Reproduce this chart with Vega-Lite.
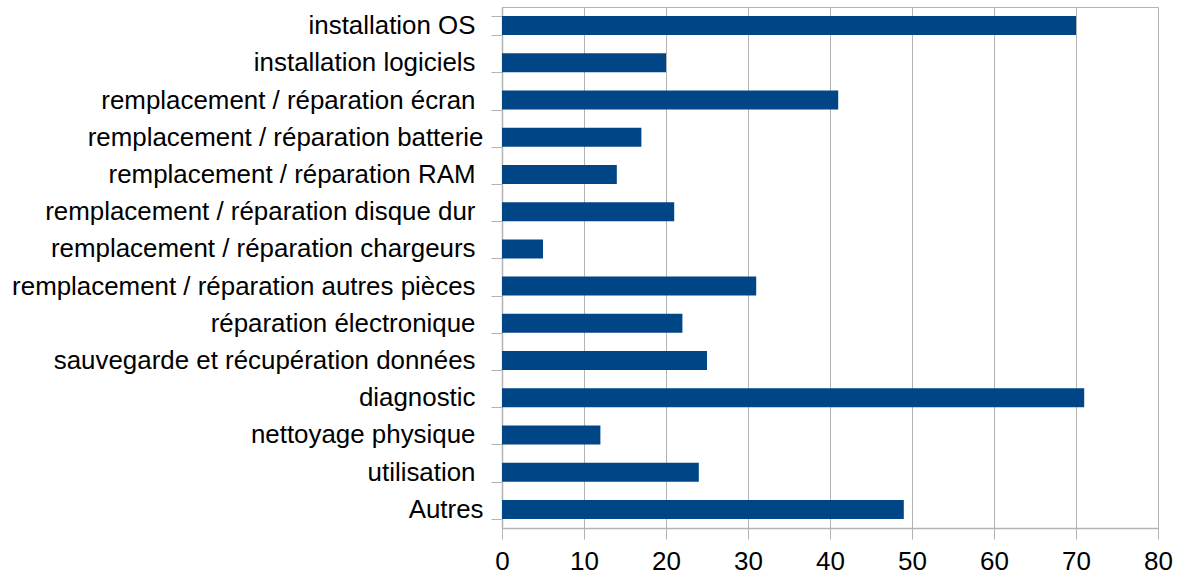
{
  "$schema": "https://vega.github.io/schema/vega-lite/v6.json",
  "width": 656,
  "height": 521,
  "autosize": {"type": "none"},
  "padding": {"left": 502, "top": 7, "right": 24, "bottom": 50},
  "background": "white",
  "config": {
    "view": {"stroke": "#b3b3b3", "strokeWidth": 1},
    "font": "Liberation Sans"
  },
  "data": {
    "values": [
      {"categorie": "installation OS", "valeur": 70},
      {"categorie": "installation logiciels", "valeur": 20},
      {"categorie": "remplacement / réparation écran", "valeur": 41},
      {"categorie": "remplacement / réparation batterie", "valeur": 17},
      {"categorie": "remplacement / réparation RAM", "valeur": 14},
      {"categorie": "remplacement / réparation disque dur", "valeur": 21},
      {"categorie": "remplacement / réparation chargeurs", "valeur": 5},
      {"categorie": "remplacement / réparation autres pièces", "valeur": 31},
      {"categorie": "réparation électronique", "valeur": 22},
      {"categorie": "sauvegarde et récupération données", "valeur": 25},
      {"categorie": "diagnostic", "valeur": 71},
      {"categorie": "nettoyage physique", "valeur": 12},
      {"categorie": "utilisation", "valeur": 24},
      {"categorie": "Autres", "valeur": 49}
    ]
  },
  "mark": {"type": "bar", "color": "#004586"},
  "encoding": {
    "y": {
      "field": "categorie",
      "type": "nominal",
      "sort": null,
      "title": null,
      "scale": {"paddingInner": 0.49, "paddingOuter": 0.245},
      "axis": {
        "domainColor": "#b3b3b3",
        "domainWidth": 1.5,
        "tickColor": "#b3b3b3",
        "tickSize": 11,
        "tickBand": "extent",
        "labelFont": "Liberation Sans",
        "labelFontSize": 25.9,
        "labelColor": "#000000",
        "labelLimit": 600,
        "labelPadding": {"condition": {"test": "datum.value === 'Autres' || datum.value === 'remplacement / réparation batterie'", "value": 8}, "value": 16}
      }
    },
    "x": {
      "field": "valeur",
      "type": "quantitative",
      "title": null,
      "scale": {"domain": [0, 80], "nice": false},
      "axis": {
        "values": [0, 10, 20, 30, 40, 50, 60, 70, 80],
        "grid": true,
        "gridColor": "#b3b3b3",
        "gridWidth": 1,
        "domainColor": "#b3b3b3",
        "domainWidth": 1.5,
        "tickColor": "#b3b3b3",
        "tickSize": 11,
        "labelFont": "Liberation Sans",
        "labelFontSize": 26,
        "labelColor": "#000000",
        "labelPadding": 9,
        "labelFlush": false
      }
    }
  }
}
